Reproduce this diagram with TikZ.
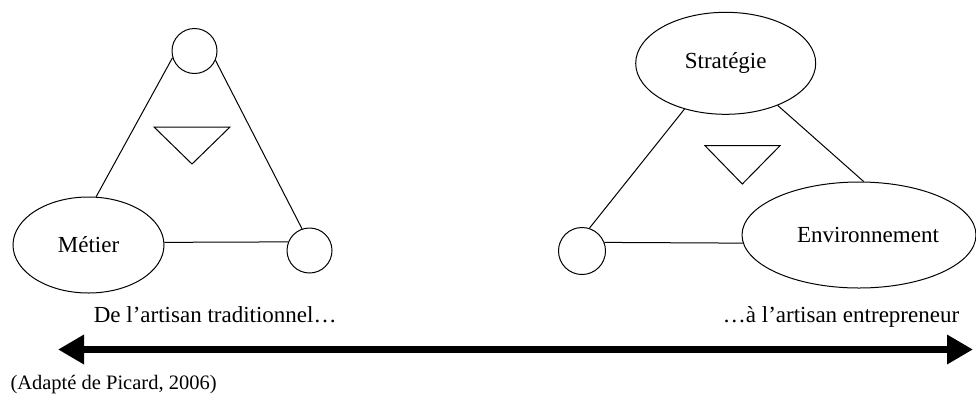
\documentclass[tikz,border=0pt]{standalone}
\usepackage{fontspec}
\setmainfont{Liberation Serif}
\usetikzlibrary{shapes.geometric,arrows.meta}

\begin{document}
\begin{tikzpicture}[x=1pt, y=-1pt, line width=1pt,
    font=\fontsize{23}{27}\selectfont,
    ring/.style={draw, circle, inner sep=0pt, minimum size=#1},
    oval/.style={draw, ellipse, inner sep=0pt},
    spectrum/.style={line width=6.5pt, {Triangle[length=26pt,width=28pt]}-{Triangle[length=26pt,width=28pt]}}]
  \useasboundingbox (0,0) rectangle (976,394);

  % Left triangle: traditional craftsman
  \node[ring=45pt] (top) at (194.5,51) {};
  \node[oval, minimum width=151pt, minimum height=96pt] (metier) at (88.5,245) {Métier};
  \node[ring=45pt] (corner) at (309.5,250.5) {};
  \draw (metier.81) -- (top.197);
  \draw (top.-24) -- (corner.109);
  \draw (metier.2) -- (corner.158);
  \draw (154,127) -- (230,127) -- (192,164) -- cycle;

  % Right triangle: entrepreneur craftsman
  \node[oval, minimum width=180pt, minimum height=102pt] (strat) at (725.7,63.3) {Stratégie};
  \node[oval, minimum width=234pt, minimum height=106pt,
        label={[xshift=9pt]center:Environnement}] (env) at (859,235) {};
  \node[ring=47pt] (pivot) at (582,251) {};
  \draw (strat.228) -- (pivot.72);
  \draw (strat.321) -- (env.85);
  \draw (pivot.21) -- (env.184);
  \draw (705,145.7) -- (780,145.7) -- (742.3,184) -- cycle;

  % Continuum
  \node[anchor=base west] (from) at (90,322) {De l’artisan traditionnel…};
  \node[anchor=base east] (to) at (963,322) {…à l’artisan entrepreneur};
  \coordinate (lend) at (58,349.5);
  \coordinate (rend) at (973,349.5);
  \draw[spectrum] (lend) -- (rend);

  % Source
  \node[anchor=base west, inner sep=0pt, font=\fontsize{20.5}{24}\selectfont] (src) at (10,389) {(Adapté de Picard, 2006)};
\end{tikzpicture}
\end{document}
